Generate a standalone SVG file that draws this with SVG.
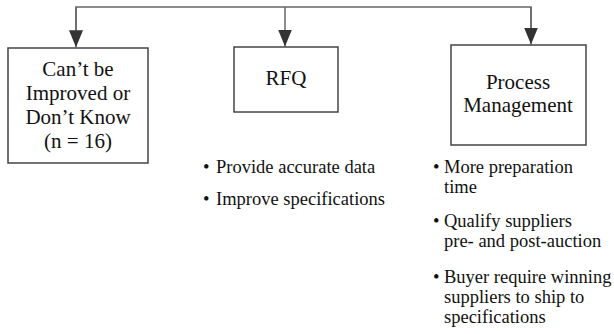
<svg xmlns="http://www.w3.org/2000/svg" width="614" height="334" viewBox="0 0 614 334">
  <style>
    .box { fill: #ffffff; stroke: #444444; stroke-width: 1.5; }
    .title { font-family: "Liberation Serif", "Times New Roman", serif; font-size: 21px; fill: #111111; text-anchor: middle; }
    .item { font-family: "Liberation Serif", "Times New Roman", serif; font-size: 18.5px; fill: #111111; }
    .conn { fill: none; stroke: #666666; stroke-width: 1.5; }
  </style>
  <defs>
    <marker id="arrow" markerWidth="17" markerHeight="14" refX="17" refY="7" orient="auto" markerUnits="userSpaceOnUse" viewBox="0 0 17 14">
      <path d="M0,0 L17,7 L0,14 Z" fill="#333333"/>
    </marker>
  </defs>
  <g id="connectors">
    <path class="conn" d="M76,30 L76,7 L531,7 L531,30"/>
    <path class="conn" d="M76,7 L76,47.3" marker-end="url(#arrow)"/>
    <path class="conn" d="M285,7 L285,46.5" marker-end="url(#arrow)"/>
    <path class="conn" d="M531,7 L531,44.5" marker-end="url(#arrow)"/>
  </g>
  <g id="node-cant">
    <rect class="box" x="8" y="48" width="140" height="115"/>
    <text class="title" x="78" y="76">Can’t be</text>
    <text class="title" x="78" y="100">Improved or</text>
    <text class="title" x="78" y="124">Don’t Know</text>
    <text class="title" x="78" y="148">(n = 16)</text>
  </g>
  <g id="node-rfq">
    <rect class="box" x="234" y="47" width="104" height="65"/>
    <text class="title" x="286" y="85">RFQ</text>
  </g>
  <g id="node-process">
    <rect class="box" x="451" y="45" width="135" height="100"/>
    <text class="title" x="518" y="89">Process</text>
    <text class="title" x="518" y="112">Management</text>
  </g>
  <g id="rfq-items">
    <text class="item" x="203" y="173">•</text>
    <text class="item" x="216" y="173">Provide accurate data</text>
    <text class="item" x="203" y="205">•</text>
    <text class="item" x="216" y="205">Improve specifications</text>
  </g>
  <g id="process-items">
    <text class="item" x="433" y="173">•</text>
    <text class="item" x="444" y="173">More preparation</text>
    <text class="item" x="444" y="193">time</text>
    <text class="item" x="433" y="226.5">•</text>
    <text class="item" x="444" y="226.5">Qualify suppliers</text>
    <text class="item" x="444" y="246.5">pre- and post-auction</text>
    <text class="item" x="433" y="283">•</text>
    <text class="item" x="444" y="283">Buyer require winning</text>
    <text class="item" x="444" y="303">suppliers to ship to</text>
    <text class="item" x="444" y="323">specifications</text>
  </g>
</svg>
